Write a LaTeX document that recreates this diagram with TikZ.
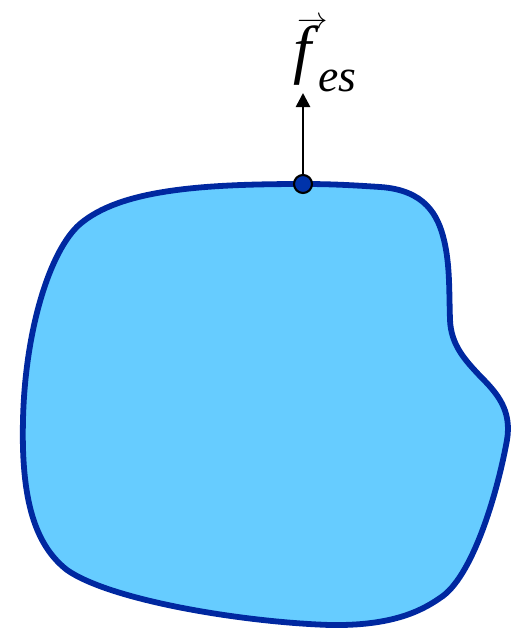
\documentclass[tikz,border=0pt]{standalone}
\usepackage{fontspec}
\newfontfamily\lblfont{Liberation Serif}
\usetikzlibrary{arrows.meta}

\definecolor{blobfill}{RGB}{102,204,255}
\definecolor{blobline}{RGB}{0,40,160}
\definecolor{dotfill}{RGB}{0,51,170}

\begin{document}
\begin{tikzpicture}[x=0.02cm, y=-0.02cm]
  \useasboundingbox (0,0) rectangle (510,628);

  % Body outline
  \draw[line width=3.3pt, blobline, fill=blobfill]
    (303,184) .. controls (200,184) and (120,190) .. (80,224)
              .. controls (50,250) and (25,330) .. (23,420)
              .. controls (21,500) and (35,545) .. (67,570)
              .. controls (110,600) and (240,622) .. (330,625)
              .. controls (390,626) and (420,612) .. (440,598)
              .. controls (472,578) and (497,495) .. (507,440)
              .. controls (512,410) and (497,393) .. (480,376)
              .. controls (465,360) and (451,345) .. (450,320)
              .. controls (449,290) and (450,265) .. (444,240)
              .. controls (438,215) and (425,190) .. (380,187)
              .. controls (350,185) and (330,184) .. cycle;

  % Point on the surface and force
  \node[circle, draw=black, line width=1.2pt, fill=dotfill,
        minimum size=0.36cm, inner sep=0pt] (P) at (303,184) {};
  \coordinate (tip) at (303,93);
  \draw[-{Triangle[length=8pt,width=8pt]}, line width=1.5pt] (P) -- (tip);

  % Label
  \node[anchor=base west, inner sep=0pt, font=\lblfont\itshape\fontsize{37}{40}\selectfont] (lbl) at (293,72)
    {\makebox[0pt][l]{\raisebox{25pt}{\kern2.5pt\fontsize{17}{17}\selectfont$\rightarrow$}}f\kern4pt\raisebox{-11pt}{\fontsize{26}{28}\selectfont es}};
\end{tikzpicture}
\end{document}
